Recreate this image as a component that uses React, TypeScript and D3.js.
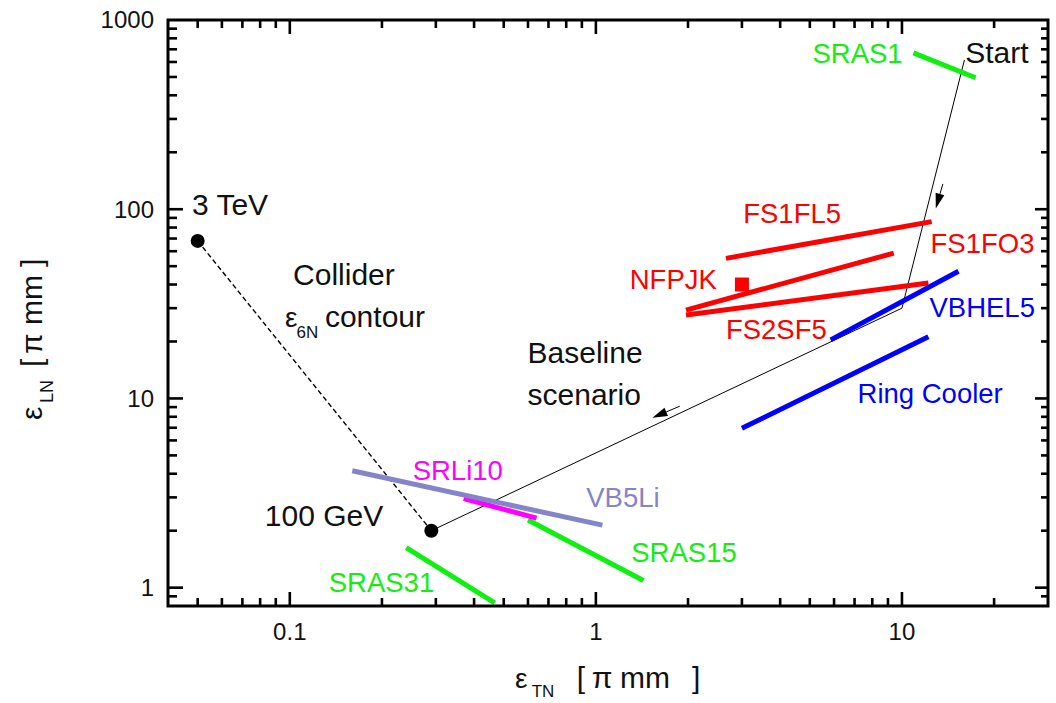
import React from "react";
import * as d3 from "d3";

// axis ranges and tick labels
const xDomain = [0.04, 30];
const yDomain = [0.8, 1000];
const xTickLabels = [0.1, 1, 10];
const yTickLabels = [1, 10, 100, 1000];

// collider end points
const colliderNames = ["3 TeV", "100 GeV"];
const colliderX = [0.05, 0.29];
const colliderY = [68, 2.0];

// baseline scenario path: 100 GeV -> corner -> start
const baselineX = [0.29, 10, 16];
const baselineY = [2.0, 30, 615];

// cooling channel segments [x, y] start and end
const sras1 = [[10.9, 670], [17.4, 495]];
const fs1fl5 = [[2.66, 55], [12.5, 86]];
const fs1fo3 = [[1.97, 29.3], [9.4, 58.6]];
const fs2sf5 = [[1.97, 27.6], [12.2, 40.7]];
const vbhel5 = [[5.85, 20.4], [15.3, 47]];
const ringCooler = [[3.0, 6.95], [12.2, 21.2]];
const vb5li = [[0.16, 4.15], [1.05, 2.14]];
const srli10 = [[0.37, 2.96], [0.64, 2.33]];
const sras15 = [[0.6, 2.28], [1.43, 1.09]];
const sras31 = [[0.24, 1.63], [0.467, 0.83]];
const nfpjk = [3.0, 40];

// arrows along the baseline path [tail, tip]
const arrows = [
  [[13.6, 136], [12.9, 101]],
  [[1.88, 9.1], [1.53, 7.9]],
];

// text labels: name, x, y (data coords of text start / baseline)
const labelNames = [
  "3 TeV", "100 GeV", "Start", "SRAS1", "FS1FL5", "FS1FO3", "NFPJK",
  "FS2SF5", "VBHEL5", "Ring Cooler", "SRLi10", "VB5Li", "SRAS15",
  "SRAS31", "Collider", "Baseline", "scenario",
];
const labelX = [
  0.0479, 0.0829, 16.1, 5.1, 3.03, 12.4, 1.29, 2.66, 12.3, 7.16, 0.252,
  0.93, 1.305, 0.134, 0.1025, 0.598, 0.598,
];
const labelY = [
  93.2, 2.12, 595, 590, 84.9, 58.5, 37.7, 20.5, 26.8, 9.43, 3.71, 2.67,
  1.37, 0.952, 39.8, 15.4, 9.23,
];
const contourLabel = [0.0964, 23.85];

const GREEN = "#10f010";
const RED = "#ff0000";
const BLUE = "#0000ff";
const MAGENTA = "#ff00ff";
const LAVENDER = "#8484c8";

const segmentStyles = [
  { d: sras1, color: GREEN },
  { d: fs1fl5, color: RED },
  { d: fs1fo3, color: RED },
  { d: fs2sf5, color: RED },
  { d: ringCooler, color: BLUE },
  { d: vbhel5, color: BLUE },
  { d: sras31, color: GREEN },
  { d: sras15, color: GREEN },
  { d: srli10, color: MAGENTA },
  { d: vb5li, color: LAVENDER },
];

const labelColor = {
  SRAS1: GREEN, SRAS15: GREEN, SRAS31: GREEN,
  FS1FL5: RED, FS1FO3: RED, NFPJK: RED, FS2SF5: RED,
  VBHEL5: BLUE, "Ring Cooler": BLUE,
  SRLi10: MAGENTA, VB5Li: LAVENDER,
};

const font = "'Liberation Sans', Arial, Helvetica, sans-serif";

const Arrow = ({ tail, tip, xScale, yScale }) => {
  const x1 = xScale(tail[0]);
  const y1 = yScale(tail[1]);
  const x2 = xScale(tip[0]);
  const y2 = yScale(tip[1]);
  const a = Math.atan2(y2 - y1, x2 - x1);
  const len = 15;
  const hw = 4.5;
  const bx = x2 - len * Math.cos(a);
  const by = y2 - len * Math.sin(a);
  const p1 = [bx + hw * Math.sin(a), by - hw * Math.cos(a)];
  const p2 = [bx - hw * Math.sin(a), by + hw * Math.cos(a)];
  return (
    <g>
      <line x1={x1} y1={y1} x2={bx} y2={by} stroke="#000" strokeWidth="1" />
      <path d={`M${x2},${y2}L${p1[0]},${p1[1]}L${p2[0]},${p2[1]}Z`} fill="#000" />
    </g>
  );
};

const Ticks = ({ xScale, yScale, left, right, top, bottom }) => {
  const isMajor = (v) => Math.abs(Math.log10(v) - Math.round(Math.log10(v))) < 1e-6;
  const xt = xScale.ticks().filter((v) => v > xDomain[0] && v < xDomain[1]);
  const yt = yScale.ticks().filter((v) => v > yDomain[0] && v < yDomain[1]);
  return (
    <g stroke="#000" strokeWidth="2.6">
      {xt.map((v, i) => {
        const px = xScale(v);
        const l = isMajor(v) ? 14 : 8;
        return (
          <g key={i}>
            <line x1={px} y1={bottom} x2={px} y2={bottom - l} />
            <line x1={px} y1={top} x2={px} y2={top + l} />
          </g>
        );
      })}
      {yt.map((v, i) => {
        const py = yScale(v);
        const major = isMajor(v);
        return (
          <g key={i}>
            <line x1={left} y1={py} x2={left + (major ? 15 : 9)} y2={py} />
            <line x1={right} y1={py} x2={right - (major ? 13 : 7)} y2={py} />
          </g>
        );
      })}
    </g>
  );
};

export default function App() {
  const width = 1056;
  const height = 703;
  const left = 168;
  const right = 1048;
  const top = 20;
  const bottom = 606;

  const xScale = d3.scaleLog().domain(xDomain).range([left, right]);
  const yScale = d3.scaleLog().domain(yDomain).range([bottom, top]);

  const line = d3
    .line()
    .x((d) => xScale(d[0]))
    .y((d) => yScale(d[1]));

  const baseline = baselineX.map((x, i) => [x, baselineY[i]]);
  const collider = colliderX.map((x, i) => [x, colliderY[i]]);

  return (
    <svg
      width={width}
      height={height}
      style={{ position: "absolute", left: 0, top: 0, background: "#fff" }}
      fontFamily={font}
    >
      <rect x="0" y="0" width={width} height={height} fill="#fff" />

      {/* collider contour */}
      <path d={line(collider)} fill="none" stroke="#000" strokeWidth="1.4" strokeDasharray="5 3" />
      {/* baseline scenario */}
      <path d={line(baseline)} fill="none" stroke="#000" strokeWidth="1" />

      {segmentStyles.map((s, i) => (
        <path key={i} d={line(s.d)} fill="none" stroke={s.color} strokeWidth="5" />
      ))}

      <rect
        x={xScale(nfpjk[0]) - 7}
        y={yScale(nfpjk[1]) - 7}
        width="14"
        height="14"
        fill={RED}
      />

      {collider.map((d, i) => (
        <circle key={i} cx={xScale(d[0])} cy={yScale(d[1])} r="7" fill="#000" />
      ))}

      {arrows.map((a, i) => (
        <Arrow key={i} tail={a[0]} tip={a[1]} xScale={xScale} yScale={yScale} />
      ))}

      {labelNames.map((name, i) => {
        const c = labelColor[name];
        return (
          <text
            key={i}
            x={xScale(labelX[i])}
            y={yScale(labelY[i])}
            fontSize={c ? 27.5 : 30}
            fill={c || "#111"}
          >
            {name}
          </text>
        );
      })}

      <g transform={`translate(${xScale(contourLabel[0])},${yScale(contourLabel[1])})`} fill="#111">
        <text x="0" y="0" fontSize="28">ε</text>
        <text x="11.7" y="11" fontSize="17">6N</text>
        <text x="40" y="0" fontSize="30">contour</text>
      </g>

      <rect x={left} y={top} width={right - left} height={bottom - top} fill="none" stroke="#000" strokeWidth="3" />
      <Ticks xScale={xScale} yScale={yScale} left={left} right={right} top={top} bottom={bottom} />

      {xTickLabels.map((v, i) => (
        <text key={i} x={xScale(v)} y={bottom + 34} fontSize="24" textAnchor="middle" fill="#111">
          {v}
        </text>
      ))}
      {yTickLabels.map((v, i) => (
        <text key={i} x={left - 14} y={yScale(v)} dy="0.35em" fontSize="24" textAnchor="end" fill="#111">
          {v}
        </text>
      ))}

      {/* x axis title */}
      <g transform="translate(515,688)" fill="#111">
        <text x="0" y="0" fontSize="28">ε</text>
        <text x="16.7" y="9" fontSize="17">TN</text>
        <text x="61.7" y="0" fontSize="30">[</text>
        <text x="76.7" y="0" fontSize="30">π</text>
        <text x="105" y="0" fontSize="30">mm</text>
        <text x="177" y="0" fontSize="30">]</text>
      </g>

      {/* y axis title */}
      <g transform="translate(42,420) rotate(-90)" fill="#111">
        <text x="0" y="0" fontSize="30">ε</text>
        <text x="17" y="11" fontSize="18">LN</text>
        <text x="53" y="0" fontSize="30">[</text>
        <text x="66" y="0" fontSize="30">π</text>
        <text x="95" y="0" fontSize="30">mm</text>
        <text x="153" y="0" fontSize="30">]</text>
      </g>
    </svg>
  );
}
